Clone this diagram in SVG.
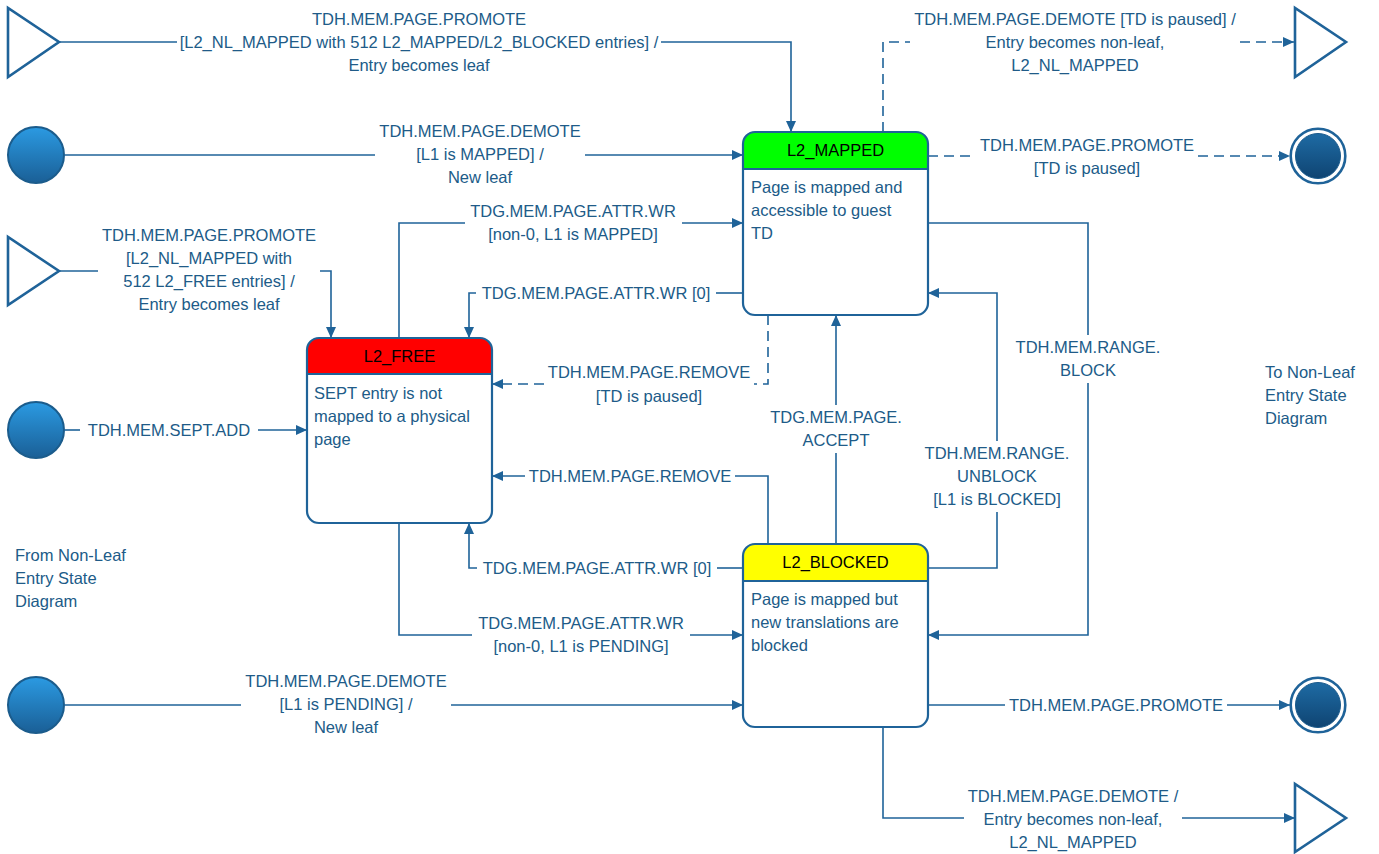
<svg xmlns="http://www.w3.org/2000/svg" width="1379" height="854" viewBox="0 0 1379 854">
<defs>
<style>
text{font-family:"Liberation Sans",Arial,sans-serif;font-size:16.5px;fill:#205b88}
.c{text-anchor:middle}
.h{fill:#000;text-anchor:middle}
.ln{fill:none;stroke:#1f6399;stroke-width:1.6}
.d{stroke-dasharray:10 6}
.box{fill:none;stroke:#1f6399;stroke-width:2.2}
.sep{stroke:#1f6399;stroke-width:1.8}
.tri{fill:#fff;stroke:#1f6399;stroke-width:2.6;stroke-linejoin:miter}
.ini{fill:url(#gi);stroke:#1b5c8c;stroke-width:2}
.fo{fill:#fff;stroke:#1f6399;stroke-width:2.6}
.fi{fill:url(#gf);stroke:#1a5a8c;stroke-width:1}
</style>
<linearGradient id="gi" x1="0" y1="0" x2="0" y2="1">
<stop offset="0" stop-color="#2b9ae2"/>
<stop offset="1" stop-color="#1a5f96"/>
</linearGradient>
<linearGradient id="gf" x1="0" y1="0" x2="0" y2="1">
<stop offset="0" stop-color="#1e6ba4"/>
<stop offset="1" stop-color="#0f4472"/>
</linearGradient>
<marker id="a" viewBox="0 0 11 10" refX="11" refY="5" markerWidth="11" markerHeight="10" markerUnits="userSpaceOnUse" orient="auto">
<path d="M0,0 L11,5 L0,10 z" fill="#1f6399"/>
</marker>
</defs>
<rect width="1379" height="854" fill="#fff"/>

<!-- pseudo-states -->
<g id="entry-top"><polygon class="tri" points="8,8 8,77 59,42"/></g>
<g id="entry-mid"><polygon class="tri" points="8,237 8,305 59,271"/></g>
<g id="exit-top"><polygon class="tri" points="1295,8 1295,77 1346,42"/></g>
<g id="exit-bottom"><polygon class="tri" points="1295,784 1295,852 1346,818"/></g>
<g id="init-1"><circle class="ini" cx="36" cy="155" r="28"/></g>
<g id="init-2"><circle class="ini" cx="36" cy="430" r="28"/></g>
<g id="init-3"><circle class="ini" cx="36" cy="705" r="28"/></g>
<g id="final-1"><circle class="fo" cx="1318" cy="156" r="27.3"/><circle class="fi" cx="1318" cy="156" r="22.5"/></g>
<g id="final-2"><circle class="fo" cx="1318" cy="705" r="27.3"/><circle class="fi" cx="1318" cy="705" r="22.5"/></g>

<!-- states -->
<g id="L2_MAPPED">
<rect x="743" y="132" width="185" height="183" rx="12" fill="#fff"/>
<path d="M743,169 V144 A12,12 0 0 1 755,132 H916 A12,12 0 0 1 928,144 V169 Z" fill="#00ff00"/>
<line class="sep" x1="743" y1="169" x2="928" y2="169"/>
<rect class="box" x="743" y="132" width="185" height="183" rx="12"/>
<text class="h" x="835.5" y="156">L2_MAPPED</text>
<text x="751" y="193">Page is mapped and</text>
<text x="751" y="216">accessible to guest</text>
<text x="751" y="239">TD</text>
</g>
<g id="L2_FREE">
<rect x="307" y="338" width="185" height="185" rx="12" fill="#fff"/>
<path d="M307,374 V350 A12,12 0 0 1 319,338 H480 A12,12 0 0 1 492,350 V374 Z" fill="#ff0000"/>
<line class="sep" x1="307" y1="374" x2="492" y2="374"/>
<rect class="box" x="307" y="338" width="185" height="185" rx="12"/>
<text class="h" x="399.5" y="362">L2_FREE</text>
<text x="314" y="399">SEPT entry is not</text>
<text x="314" y="422">mapped to a physical</text>
<text x="314" y="445">page</text>
</g>
<g id="L2_BLOCKED">
<rect x="743" y="544" width="185" height="183" rx="12" fill="#fff"/>
<path d="M743,581 V556 A12,12 0 0 1 755,544 H916 A12,12 0 0 1 928,556 V581 Z" fill="#ffff00"/>
<line class="sep" x1="743" y1="581" x2="928" y2="581"/>
<rect class="box" x="743" y="544" width="185" height="183" rx="12"/>
<text class="h" x="835.5" y="568">L2_BLOCKED</text>
<text x="751" y="605">Page is mapped but</text>
<text x="751" y="628">new translations are</text>
<text x="751" y="651">blocked</text>
</g>

<!-- connectors -->
<g id="connectors">
<path class="ln" d="M59,42 H177"/>
<path class="ln" d="M661,42 H791 V132" marker-end="url(#a)"/>
<path class="ln" d="M64,155 H375"/>
<path class="ln" d="M585,155 H743" marker-end="url(#a)"/>
<path class="ln d" d="M883,132 V42 H910"/>
<path class="ln d" d="M1240,42 H1294" marker-end="url(#a)"/>
<path class="ln d" d="M928,156 H976"/>
<path class="ln d" d="M1198,156 H1290" marker-end="url(#a)"/>
<path class="ln" d="M59,271 H98"/>
<path class="ln" d="M320,271 H331 V338" marker-end="url(#a)"/>
<path class="ln" d="M64,430 H80"/>
<path class="ln" d="M258,430 H307" marker-end="url(#a)"/>
<path class="ln" d="M399,338 V223 H465"/>
<path class="ln" d="M682,223 H743" marker-end="url(#a)"/>
<path class="ln" d="M743,293 H716"/>
<path class="ln" d="M476,293 H469 V338" marker-end="url(#a)"/>
<path class="ln d" d="M768,315 V384 H754"/>
<path class="ln d" d="M544,384 H492" marker-end="url(#a)"/>
<path class="ln" d="M768,544 V476 H735"/>
<path class="ln" d="M525,476 H492" marker-end="url(#a)"/>
<path class="ln" d="M743,568 H717"/>
<path class="ln" d="M477,568 H469 V523" marker-end="url(#a)"/>
<path class="ln" d="M399,523 V635 H472"/>
<path class="ln" d="M690,635 H743" marker-end="url(#a)"/>
<path class="ln" d="M836,544 V453"/>
<path class="ln" d="M836,405 V315" marker-end="url(#a)"/>
<path class="ln" d="M928,568 H997 V512"/>
<path class="ln" d="M997,441 V293 H928" marker-end="url(#a)"/>
<path class="ln" d="M928,223 H1088 V335"/>
<path class="ln" d="M1088,383 V635 H928" marker-end="url(#a)"/>
<path class="ln" d="M64,705 H241"/>
<path class="ln" d="M451,705 H743" marker-end="url(#a)"/>
<path class="ln" d="M928,705 H1005"/>
<path class="ln" d="M1227,705 H1290" marker-end="url(#a)"/>
<path class="ln" d="M883,727 V818 H964"/>
<path class="ln" d="M1182,818 H1295" marker-end="url(#a)"/>
</g>

<!-- connector labels -->
<g id="labels">
<text class="c" x="419" y="25">TDH.MEM.PAGE.PROMOTE</text>
<text class="c" x="419" y="48">[L2_NL_MAPPED with 512 L2_MAPPED/L2_BLOCKED entries] /</text>
<text class="c" x="419" y="71">Entry becomes leaf</text>

<text class="c" x="480" y="137">TDH.MEM.PAGE.DEMOTE</text>
<text class="c" x="480" y="160">[L1 is MAPPED] /</text>
<text class="c" x="480" y="183">New leaf</text>

<text class="c" x="1075" y="25">TDH.MEM.PAGE.DEMOTE [TD is paused] /</text>
<text class="c" x="1075" y="48">Entry becomes non-leaf,</text>
<text class="c" x="1075" y="71">L2_NL_MAPPED</text>

<text class="c" x="1087" y="151">TDH.MEM.PAGE.PROMOTE</text>
<text class="c" x="1087" y="174">[TD is paused]</text>

<text class="c" x="209" y="241">TDH.MEM.PAGE.PROMOTE</text>
<text class="c" x="209" y="264">[L2_NL_MAPPED with</text>
<text class="c" x="209" y="287">512 L2_FREE entries] /</text>
<text class="c" x="209" y="310">Entry becomes leaf</text>

<text class="c" x="169" y="436">TDH.MEM.SEPT.ADD</text>

<text class="c" x="573" y="217">TDG.MEM.PAGE.ATTR.WR</text>
<text class="c" x="573" y="240">[non-0, L1 is MAPPED]</text>

<text class="c" x="596" y="299">TDG.MEM.PAGE.ATTR.WR [0]</text>

<text class="c" x="649" y="378">TDH.MEM.PAGE.REMOVE</text>
<text class="c" x="649" y="402">[TD is paused]</text>

<text class="c" x="630" y="482">TDH.MEM.PAGE.REMOVE</text>

<text class="c" x="597" y="574">TDG.MEM.PAGE.ATTR.WR [0]</text>

<text class="c" x="581" y="629">TDG.MEM.PAGE.ATTR.WR</text>
<text class="c" x="581" y="652">[non-0, L1 is PENDING]</text>

<text class="c" x="836" y="423">TDG.MEM.PAGE.</text>
<text class="c" x="836" y="446">ACCEPT</text>

<text class="c" x="997" y="459">TDH.MEM.RANGE.</text>
<text class="c" x="997" y="482">UNBLOCK</text>
<text class="c" x="997" y="505">[L1 is BLOCKED]</text>

<text class="c" x="1088" y="353">TDH.MEM.RANGE.</text>
<text class="c" x="1088" y="376">BLOCK</text>

<text class="c" x="346" y="687">TDH.MEM.PAGE.DEMOTE</text>
<text class="c" x="346" y="710">[L1 is PENDING] /</text>
<text class="c" x="346" y="733">New leaf</text>

<text class="c" x="1116" y="711">TDH.MEM.PAGE.PROMOTE</text>

<text class="c" x="1073" y="802">TDH.MEM.PAGE.DEMOTE /</text>
<text class="c" x="1073" y="825">Entry becomes non-leaf,</text>
<text class="c" x="1073" y="848">L2_NL_MAPPED</text>
</g>

<!-- annotations -->
<g id="note-from">
<text x="15" y="561">From Non-Leaf</text>
<text x="15" y="584">Entry State</text>
<text x="15" y="607">Diagram</text>
</g>
<g id="note-to">
<text x="1265" y="378">To Non-Leaf</text>
<text x="1265" y="401">Entry State</text>
<text x="1265" y="424">Diagram</text>
</g>
</svg>
